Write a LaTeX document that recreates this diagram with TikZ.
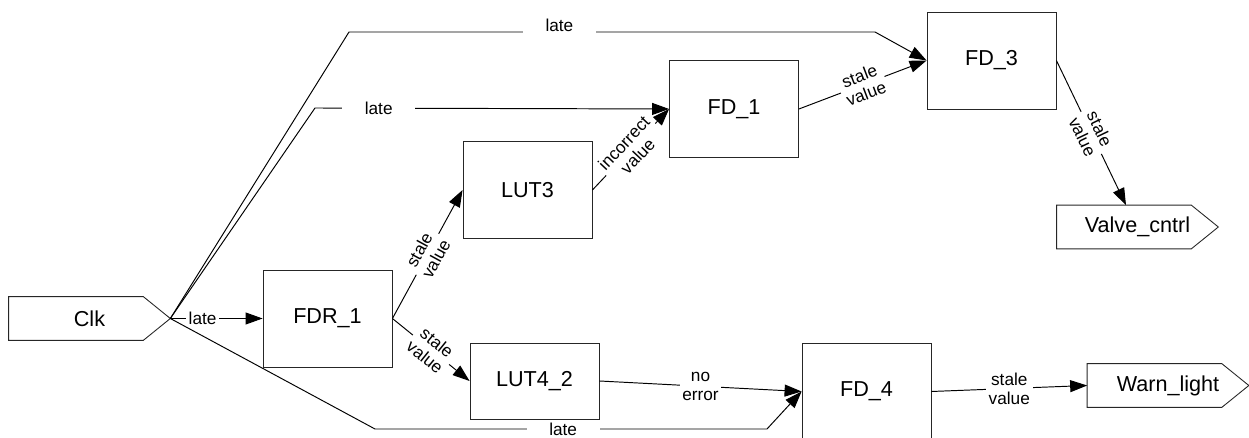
\documentclass[tikz,border=0pt]{standalone}
\usepackage{fontspec}
\setmainfont{Liberation Sans}
\usetikzlibrary{arrows.meta,positioning,calc}
\tikzset{
  block/.style={
    rectangle,
    draw=black!85,
    line width=0.5pt,
    inner sep=0pt,
    minimum width=2.58cm,
    minimum height=1.94cm,
    font=\fontsize{12.3}{14}\selectfont
  },
  port/.style={
    rectangle,
    inner sep=0pt,
    minimum width=3.22cm,
    minimum height=0.86cm,
    font=\fontsize{12.3}{14}\selectfont
  },
  outline/.style={draw=black!85, line width=0.5pt},
  line/.style={-{Triangle[length=0.34cm,width=0.24cm]}, line width=0.55pt, draw=black},
  tag/.style={fill=white, align=center, inner sep=1.5pt, font=\fontsize{9.8}{10.8}\selectfont},
  wide/.style={inner xsep=0.45cm}
}
\begin{document}
\begin{tikzpicture}[x=0.02cm, y=-0.02cm]
  \useasboundingbox (0,0) rectangle (1249,438);

  \node[port] (clk) at (89.5,318.5) {Clk};
  \node[block] (fdr1) at (327.5,318.5) {FDR\_1};
  \node[block] (lut3) at (527.5,190) {LUT3};
  \node[block] (fd1) at (734,109) {FD\_1};
  \node[block] (fd3) at (991.5,60.5) {FD\_3};
  \node[block, minimum height=1.52cm] (lut42) at (534.5,381) {LUT4\_2};
  \node[block] (fd4) at (866.5,391.5) {FD\_4};
  \node[port] (valve) at (1137.5,227) {Valve\_cntrl};
  \node[port] (warn) at (1168,385.5) {Warn\_light};

  % pointed ends of the ports
  \foreach \p in {clk,valve,warn}
    \draw[outline] (\p.north west) -- ([xshift=-0.54cm]\p.north east) -- (\p.east)
      -- ([xshift=-0.54cm]\p.south east) -- (\p.south west) -- cycle;

  \coordinate (topup) at (349,32);
  \coordinate (topdown) at (875,32);
  \coordinate (midup) at (315,108);
  \coordinate (lowdown) at (375,429);
  \coordinate (lowup) at (767,429);

  \draw[line] (clk.east) -- node[tag, pos=0.35] {late} (fdr1.west);
  \draw[line] (clk.east) -- (topup) -- node[tag, wide, pos=0.4, yshift=0.13cm, inner ysep=2pt] {late} (topdown) -- (fd3.west);
  \draw[line] (clk.east) -- (midup) -- node[tag, wide, pos=0.18] {late} (fd1.west);
  \draw[line] (clk.east) -- (lowdown) -- node[tag, wide, pos=0.48, inner ysep=0.5pt] {late} (lowup) -- (fd4.west);
  \draw[line] (fdr1.east) -- node[tag, sloped] {stale\\value} (lut3.west);
  \draw[line] (fdr1.east) -- node[tag, sloped] {stale\\value} (lut42.west);
  \draw[line] (lut3.east) -- node[tag, sloped] {incorrect\\value} (fd1.west);
  \draw[line] (fd1.east) -- node[tag, sloped] {stale\\value} (fd3.west);
  \draw[line] (fd3.east) -- node[tag, sloped] {stale\\value} ([xshift=-0.23cm]valve.north);
  \draw[line] (lut42.east) -- node[tag] {no\\error} (fd4.west);
  \draw[line] (fd4.east) -- node[tag] {stale\\value} (warn.west);
\end{tikzpicture}
\end{document}
